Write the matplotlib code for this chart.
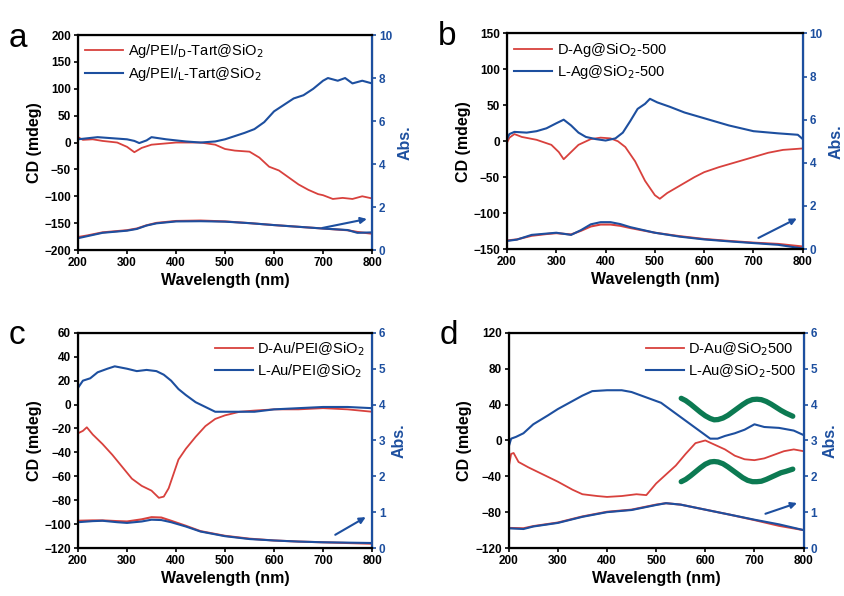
import numpy as np
import matplotlib.pyplot as plt

plt.rcParams['font.family'] = ['Liberation Sans', 'DejaVu Sans']

red = '#d8413d'
blue = '#1d4f9f'
green = '#0c7a52'

# ---------- panel a ----------
a_wl_red = [200, 210, 230, 250, 280, 300, 315, 330, 350, 400, 450, 480, 500, 520, 550, 570,
            590, 610, 630, 650, 670, 690, 700, 720, 740, 760, 780, 800]
a_cd_red = [10, 5, 6, 3, 0, -8, -18, -10, -4, 0, 0, -4, -12, -15, -17, -28,
            -45, -52, -65, -78, -88, -96, -98, -105, -103, -105, -100, -104]
a_wl_blue = [200, 220, 240, 270, 300, 315, 325, 340, 350, 380, 420, 450, 480, 500, 520, 540,
             560, 580, 600, 620, 640, 660, 680, 700, 710, 730, 745, 760, 780, 800]
a_cd_blue = [6, 8, 10, 8, 6, 3, -1, 4, 10, 6, 2, 0, 2, 6, 12, 18,
             25, 38, 58, 70, 82, 88, 100, 115, 120, 115, 120, 110, 115, 110]
a_wl_abs = [200, 220, 250, 280, 300, 320, 340, 360, 400, 450, 500, 550, 600, 650, 700, 750, 770, 800]
a_abs_red = [0.60, 0.68, 0.82, 0.88, 0.92, 1.00, 1.15, 1.26, 1.35, 1.37, 1.33, 1.25, 1.16, 1.08, 1.00, 0.92, 0.84, 0.76]
a_abs_blue = [0.55, 0.65, 0.80, 0.86, 0.90, 0.98, 1.14, 1.24, 1.33, 1.34, 1.32, 1.25, 1.16, 1.08, 1.00, 0.93, 0.80, 0.82]

# ---------- panel b ----------
b_wl_red = [200, 205, 215, 230, 260, 290, 305, 315, 330, 345, 370, 390, 410, 425, 440, 460,
            480, 500, 510, 525, 550, 580, 600, 630, 660, 700, 730, 760, 780, 800]
b_cd_red = [-2, 5, 10, 6, 2, -5, -15, -25, -15, -5, 3, 5, 4, 0, -8, -28,
            -55, -75, -80, -72, -62, -50, -43, -36, -30, -22, -16, -12, -11, -10]
b_wl_blue = [200, 205, 215, 240, 260, 280, 300, 315, 330, 345, 360, 380, 400, 420, 435, 450,
             465, 480, 490, 505, 530, 560, 600, 650, 700, 750, 790, 800]
b_cd_blue = [3, 10, 13, 12, 14, 18, 25, 30, 22, 12, 6, 3, 1, 4, 12, 28,
             45, 52, 59, 54, 48, 40, 32, 22, 14, 11, 9, 3]
b_wl_abs = [200, 220, 250, 280, 300, 330, 350, 370, 390, 410, 430, 450, 500, 550, 600, 650, 700, 750, 800]
b_abs_red = [0.40, 0.45, 0.62, 0.70, 0.74, 0.68, 0.85, 1.05, 1.14, 1.14, 1.08, 0.98, 0.76, 0.60, 0.47, 0.38, 0.30, 0.24, 0.12]
b_abs_blue = [0.38, 0.44, 0.66, 0.72, 0.76, 0.66, 0.88, 1.15, 1.25, 1.25, 1.16, 1.02, 0.76, 0.58, 0.45, 0.36, 0.28, 0.20, 0.03]

# ---------- panel c ----------
c_wl_red = [200, 210, 218, 230, 250, 270, 290, 310, 330, 350, 365, 375, 385, 395, 405, 420,
            440, 460, 480, 500, 530, 560, 600, 650, 700, 750, 800]
c_cd_red = [-24, -22, -19, -25, -33, -42, -52, -62, -68, -72, -78, -77, -70, -58, -46, -37,
            -27, -18, -12, -9, -6, -5, -4, -4, -3, -4, -6]
c_wl_blue = [200, 210, 225, 240, 260, 275, 300, 320, 340, 360, 375, 390, 405, 420, 440, 460,
             480, 500, 530, 560, 600, 650, 700, 750, 800]
c_cd_blue = [14, 20, 22, 27, 30, 32, 30, 28, 29, 28, 25, 20, 13, 8, 2, -2,
             -6, -6, -6, -6, -4, -3, -2, -2, -3]
c_wl_abs = [200, 230, 250, 280, 300, 330, 350, 370, 390, 420, 450, 500, 550, 600, 650, 700, 750, 800]
c_abs_red = [0.76, 0.77, 0.77, 0.75, 0.74, 0.80, 0.86, 0.85, 0.76, 0.62, 0.47, 0.34, 0.26, 0.21, 0.18, 0.16, 0.14, 0.12]
c_abs_blue = [0.72, 0.75, 0.76, 0.72, 0.70, 0.74, 0.79, 0.78, 0.72, 0.60, 0.46, 0.33, 0.25, 0.21, 0.18, 0.16, 0.15, 0.14]

# ---------- panel d ----------
d_wl_red = [200, 205, 210, 220, 240, 270, 300, 330, 350, 380, 400, 430, 460, 480, 500, 520,
            540, 560, 580, 600, 620, 640, 660, 680, 700, 720, 740, 760, 780, 800]
d_cd_red = [-30, -15, -14, -24, -30, -38, -46, -55, -60, -62, -63, -62, -60, -61, -48, -38,
            -28, -15, -3, 0, -5, -10, -17, -21, -22, -20, -16, -12, -10, -12]
d_wl_blue = [200, 205, 215, 230, 250, 280, 300, 330, 350, 370, 400, 430, 450, 470, 490, 510,
             530, 550, 570, 590, 610, 625, 640, 660, 680, 700, 720, 750, 780, 800]
d_cd_blue = [-7, 2, 4, 8, 18, 28, 35, 44, 50, 55, 56, 56, 54, 50, 46, 42,
             34, 26, 18, 10, 2, 2, 5, 8, 12, 18, 15, 14, 11, 6]
d_wl_abs = [200, 230, 250, 300, 350, 400, 450, 500, 520, 550, 600, 650, 700, 750, 800]
d_abs_red = [0.56, 0.55, 0.61, 0.71, 0.88, 1.01, 1.07, 1.21, 1.25, 1.21, 1.07, 0.93, 0.78, 0.62, 0.50]
d_abs_blue = [0.55, 0.53, 0.60, 0.70, 0.87, 1.00, 1.06, 1.20, 1.25, 1.21, 1.07, 0.93, 0.79, 0.66, 0.50]

# green wavy guides in d (CD units)
d_wave_x = [551, 560, 570, 580, 590, 600, 610, 618, 626, 636, 646, 656, 666, 676, 686, 696,
            705, 714, 724, 734, 744, 754, 764, 778]
d_wave_up = [47, 44.5, 40.5, 36, 31.5, 27.5, 24.5, 23, 23.3, 25, 28, 32, 36, 40, 43.5, 45.6,
             46, 45.5, 43.5, 40.5, 37, 33.5, 30.5, 27]
d_wave_lo = [-46, -43.5, -39.5, -35, -30.5, -26.5, -24, -23.5, -24, -26, -29.5, -33.5, -37.5, -41.5, -44.5, -46,
             -46, -45.5, -43.5, -41, -38.5, -36, -34.5, -32]

panels = [
    dict(label='a', rect=[0.0923, 0.5805, 0.348, 0.3607], cd_lim=(-200, 200), cd_step=50,
         abs_lim=(0, 10), abs_step=2,
         leg=[r'Ag/PEI/$_{\mathrm{D}}$-Tart@SiO$_2$', r'Ag/PEI/$_{\mathrm{L}}$-Tart@SiO$_2$'],
         leg_loc='upper left',
         red=(a_wl_red, a_cd_red), blue=(a_wl_blue, a_cd_blue),
         absr=(a_wl_abs, a_abs_red), absb=(a_wl_abs, a_abs_blue),
         arrow=((693, 1.0), (795, 1.47))),
    dict(label='b', rect=[0.600, 0.582, 0.350, 0.362], cd_lim=(-150, 150), cd_step=50,
         abs_lim=(0, 10), abs_step=2,
         leg=[r'D-Ag@SiO$_2$-500', r'L-Ag@SiO$_2$-500'], leg_loc='upper left',
         red=(b_wl_red, b_cd_red), blue=(b_wl_blue, b_cd_blue),
         absr=(b_wl_abs, b_abs_red), absb=(b_wl_abs, b_abs_blue),
         arrow=((705, 0.46), (793, 1.48))),
    dict(label='c', rect=[0.0923, 0.0805, 0.348, 0.361], cd_lim=(-120, 60), cd_step=20,
         abs_lim=(0, 6), abs_step=1,
         leg=[r'D-Au/PEI@SiO$_2$', r'L-Au/PEI@SiO$_2$'], leg_loc='upper right',
         red=(c_wl_red, c_cd_red), blue=(c_wl_blue, c_cd_blue),
         absr=(c_wl_abs, c_abs_red), absb=(c_wl_abs, c_abs_blue),
         arrow=((720, 0.33), (792, 0.9))),
    dict(label='d', rect=[0.602, 0.0805, 0.349, 0.361], cd_lim=(-120, 120), cd_step=40,
         abs_lim=(0, 6), abs_step=1,
         leg=[r'D-Au@SiO$_2$500', r'L-Au@SiO$_2$-500'], leg_loc='upper right',
         red=(d_wl_red, d_cd_red), blue=(d_wl_blue, d_cd_blue),
         absr=(d_wl_abs, d_abs_red), absb=(d_wl_abs, d_abs_blue),
         arrow=((717, 0.93), (792, 1.28))),
]

fig = plt.figure(figsize=(8.45, 5.96), dpi=100)

for p in panels:
    ax = fig.add_axes(p['rect'])
    ax2 = ax.twinx()

    ax.plot(*p['red'], color=red, lw=1.3, label=p['leg'][0])
    ax.plot(*p['blue'], color=blue, lw=1.5, label=p['leg'][1])
    ax2.plot(*p['absr'], color=red, lw=1.5)
    ax2.plot(*p['absb'], color=blue, lw=1.5)

    if p['label'] == 'd':
        ax.plot(d_wave_x, d_wave_up, color=green, lw=3.8, solid_capstyle='round', solid_joinstyle='round')
        ax.plot(d_wave_x, d_wave_lo, color=green, lw=3.8, solid_capstyle='round', solid_joinstyle='round')

    ax2.annotate('', xy=p['arrow'][1], xytext=p['arrow'][0],
                 arrowprops=dict(arrowstyle='-|>', color=blue, lw=1.5, mutation_scale=9))

    ax.set_xlim(200, 800)
    ax.set_ylim(*p['cd_lim'])
    ax.set_yticks(np.arange(p['cd_lim'][0], p['cd_lim'][1] + 1, p['cd_step']))
    ax.set_xticks(np.arange(200, 801, 100))
    ax2.set_ylim(*p['abs_lim'])
    ax2.set_yticks(np.arange(p['abs_lim'][0], p['abs_lim'][1] + 1, p['abs_step']))

    for t in ax.get_xticklabels() + ax.get_yticklabels():
        t.set_fontweight('bold')
    for t in ax2.get_yticklabels():
        t.set_fontweight('bold')
    ax.tick_params(axis='both', direction='out', length=3, width=1.2, labelsize=8.5, pad=2)
    ax2.tick_params(axis='y', direction='out', length=3, width=1.2, labelsize=8.5, pad=2,
                    colors=blue)
    for s in ['top', 'left', 'bottom']:
        ax2.spines[s].set_linewidth(1.6)
    ax2.spines['right'].set_color(blue)
    ax2.spines['right'].set_linewidth(1.6)

    ax.set_xlabel('Wavelength (nm)', fontsize=11.5, fontweight='bold', labelpad=3)
    ax.set_ylabel('CD (mdeg)', fontsize=11.5, fontweight='bold', labelpad=2)
    ax2.set_ylabel('Abs.', fontsize=11.5, fontweight='bold', color=blue, labelpad=4)

    leg = ax.legend(loc=p['leg_loc'], frameon=False, fontsize=10.5, handlelength=2.6,
                    borderaxespad=0.1, labelspacing=0.3, handletextpad=0.3)

    fig.text(p['rect'][0] - 0.082, p['rect'][1] + p['rect'][3] - 0.005, p['label'],
             fontsize=24, va='center', ha='left')

fig.savefig('out.png', dpi=100)
